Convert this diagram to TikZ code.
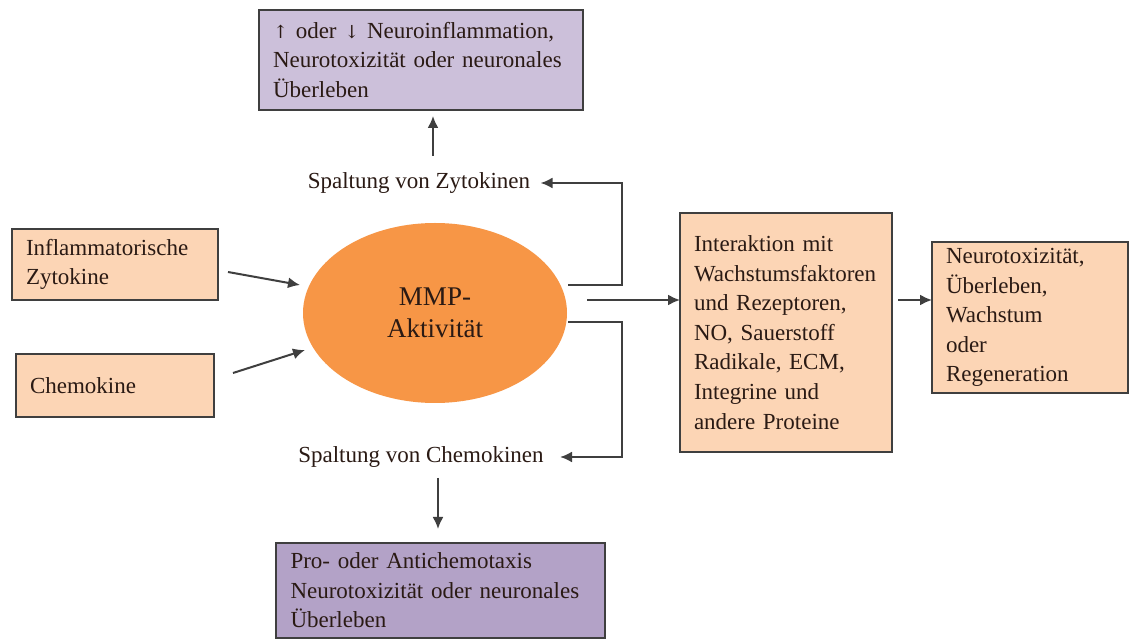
\documentclass[tikz,border=0pt]{standalone}
\usepackage{fontspec}
\setmainfont{Liberation Serif}
\newfontfamily\arrowfont{DejaVu Serif}
\usetikzlibrary{arrows.meta,shapes.geometric}
\definecolor{peach}{HTML}{FCD5B5}
\definecolor{mmporange}{HTML}{F79646}
\definecolor{purpleL}{HTML}{CCC0DA}
\definecolor{purpleD}{HTML}{B3A2C7}
\definecolor{linec}{HTML}{3F3F3F}
\definecolor{txt}{HTML}{2A1A14}
\tikzset{
  box/.style={draw=linec, line width=1pt, rectangle, anchor=north west,
    inner xsep=7pt, inner ysep=3pt, outer sep=0pt, align=left, text=txt,
    font=\fontsize{11.5}{14.8}\selectfont},
  lbl/.style={text=txt, font=\fontsize{11.5}{14.8}\selectfont, inner sep=2pt},
  tip/.style={-{Latex[length=6pt,width=5.5pt]}},
  arr/.style={draw=linec, line width=1pt, tip},
  ln/.style={draw=linec, line width=1pt}
}
\begin{document}
\begin{tikzpicture}[x=0.5pt,y=-0.5pt]
\useasboundingbox (0,0) rectangle (1130,641);
\fill[white] (0,0) rectangle (1130,641);

\node[box, fill=purpleL, minimum width=162pt, minimum height=50pt, text width=148pt] (top) at (259,10)
  {{\arrowfont\fontsize{9}{10}\selectfont↑} oder {\arrowfont\fontsize{9}{10}\selectfont↓} Neuroinflammation,\\Neurotoxizität oder neuronales\\Überleben};

\node[box, fill=peach, minimum width=103pt, minimum height=35.5pt, text width=89pt] (infl) at (12,229)
  {Inflammatorische\\Zytokine};
\node[box, fill=peach, minimum width=99pt, minimum height=31.5pt, text width=85pt] (chem) at (16,354)
  {Chemokine};

\node[ellipse, fill=mmporange, minimum width=132pt, minimum height=90pt, inner sep=0pt,
  align=center, text=txt, font=\fontsize{13.5}{16}\selectfont] (mmp) at (435,313) {MMP-\\Aktivität};

\node[lbl] (zyto) at (419,183) {Spaltung von Zytokinen};
\node[lbl] (chemo) at (421,457) {Spaltung von Chemokinen};

\node[box, fill=peach, minimum width=106pt, minimum height=119.5pt, text width=92pt] (inter) at (680,213)
  {Interaktion mit\\Wachstumsfaktoren\\und Rezeptoren,\\NO, Sauerstoff\\Radikale, ECM,\\Integrine und\\andere Proteine};

\node[box, fill=peach, minimum width=98pt, minimum height=75.5pt, text width=84pt] (neuro) at (932,242)
  {Neurotoxizität,\\Überleben,\\Wachstum\\oder\\Regeneration};

\node[box, fill=purpleD, minimum width=164.5pt, minimum height=47.5pt, text width=150pt] (bottom) at (276,543)
  {Pro- oder Antichemotaxis\\Neurotoxizität oder neuronales\\Überleben};

% coordinates
\coordinate (e1) at (568,285);
\coordinate (e2) at (568,322);
\coordinate (m1) at (587,300);
\coordinate (n1) at (898,300);
\coordinate (a1) at (228,272);
\coordinate (a1e) at (300,285);
\coordinate (a2) at (233,373);
\coordinate (a2e) at (305,350);
\coordinate (up) at (433,156);
\coordinate (dn) at (438,478);

% connectors
\draw[arr] (a1) -- (a1e);
\draw[arr] (a2) -- (a2e);
\draw[ln, tip] (e1) -- (622,285) |- ([xshift=3pt]zyto.east);
\draw[ln, tip] (e2) -- (622,322) |- ([xshift=6pt]chemo.east);
\draw[arr] (m1) -- (m1 -| inter.west);
\draw[arr] (n1) -- (n1 -| neuro.west);
\draw[arr] (up) -- ([yshift=-3pt]up |- top.south);
\draw[arr] (dn) -- ([yshift=7pt]dn |- bottom.north);
\end{tikzpicture}
\end{document}
